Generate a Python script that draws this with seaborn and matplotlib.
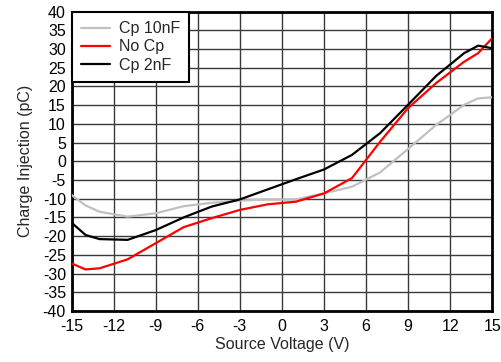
import numpy as np
import pandas as pd
import matplotlib
matplotlib.use('Agg')
import matplotlib.pyplot as plt
import seaborn as sns

# values
volts = [-15, -14, -13, -11, -9, -7, -5, -3, -1, 1, 3, 5, 7, 9, 11, 13, 14, 15]
cp10nf = [-9.0, -11.8, -13.5, -14.8, -13.9, -12.0, -11.1, -10.5, -10.2, -10.2, -8.6, -6.8, -3.0, 3.3, 9.7, 15.1, 16.8, 17.1]
no_cp = [-27.3, -28.9, -28.6, -26.2, -21.9, -17.6, -15.2, -13.0, -11.5, -10.8, -8.6, -4.5, 5.2, 14.2, 20.9, 26.6, 28.9, 32.9]
cp2nf = [-16.4, -19.7, -20.8, -21.0, -18.4, -15.0, -12.1, -10.2, -7.5, -4.8, -2.2, 1.7, 7.5, 15.1, 22.8, 28.9, 30.9, 30.2]

series_names = ['Cp 10nF', 'No Cp', 'Cp 2nF']
series_colors = ['#c0c0c0', '#ff0000', '#000000']
x_ticks = list(range(-15, 16, 3))
y_ticks = list(range(-40, 41, 5))

df = pd.DataFrame({
    'Source Voltage (V)': volts * 3,
    'Charge Injection (pC)': cp10nf + no_cp + cp2nf,
    'series': [s for s in series_names for _ in volts],
})

sns.set_style('white')
plt.rcParams['font.family'] = ['Liberation Sans', 'DejaVu Sans']
plt.rcParams['axes.unicode_minus'] = False

fig = plt.figure(figsize=(5.02, 3.62), dpi=100)
ax = fig.add_axes([0.1425, 0.141, 0.838, 0.827])

sns.lineplot(data=df, x='Source Voltage (V)', y='Charge Injection (pC)', hue='series',
             hue_order=series_names, palette=series_colors, linewidth=1.6, ax=ax, zorder=3)

ax.set_xlim(-15, 15)
ax.set_ylim(-40, 40)
ax.set_xticks(x_ticks)
ax.set_yticks(y_ticks)
ax.tick_params(length=0, labelsize=11.5, colors='black')
ax.tick_params(axis='y', pad=4)
ax.tick_params(axis='x', pad=6)
ax.grid(True, color='#3a3a3a', linewidth=1.0)
ax.set_axisbelow(True)
for sp in ax.spines.values():
    sp.set_linewidth(2)
    sp.set_color('black')
    sp.set_visible(True)
ax.set_xlabel('Source Voltage (V)', fontsize=11.5, labelpad=2)
ax.set_ylabel('Charge Injection (pC)', fontsize=11.5, labelpad=7)

leg = ax.legend(loc='upper left', fontsize=11.5, frameon=True, fancybox=False,
                borderaxespad=0, handlelength=1.8, handletextpad=0.55,
                borderpad=0.6, labelspacing=0.2)
leg.get_frame().set_edgecolor('black')
leg.get_frame().set_linewidth(1.5)
leg.get_frame().set_alpha(1)
for line in leg.get_lines():
    line.set_linewidth(1.6)

fig.savefig('out.png', dpi=100)
